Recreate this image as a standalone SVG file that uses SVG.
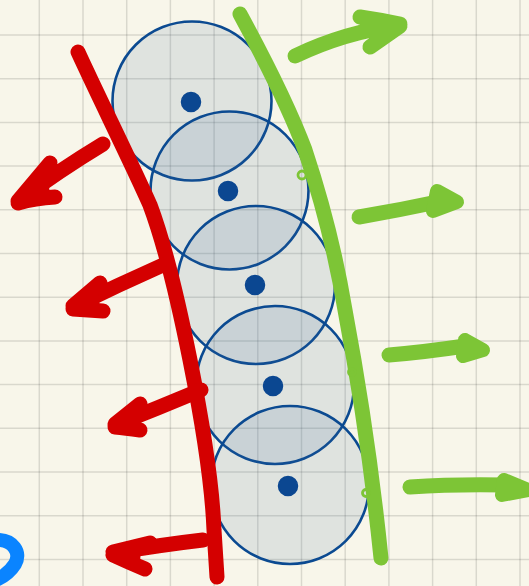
<svg xmlns="http://www.w3.org/2000/svg" width="529" height="586" viewBox="0 0 529 586">
<style>
.grid line{stroke:#000;stroke-opacity:0.12;stroke-width:1.5}
.cell circle.c{fill:#38669a;fill-opacity:0.13;stroke:#0b4a91;stroke-width:2.6}
.cell circle.d{fill:#0b4791;stroke:#0b4791;stroke-width:1.5}
.red{fill:none;stroke:#d40000;stroke-width:15;stroke-linecap:round;stroke-linejoin:round}
.rhead{fill:#d40000;stroke:#d40000;stroke-width:12;stroke-linejoin:round}
.green{fill:none;stroke:#7dc536;stroke-width:15;stroke-linecap:round;stroke-linejoin:round}
.ghead{fill:#7dc536;stroke:#7dc536;stroke-width:14;stroke-linejoin:round}
.loop{fill:none;stroke:#7dc536;stroke-width:2.8}
</style>
<rect width="529" height="586" fill="#f8f6ea"/>
<g class="grid">
<line x1="39.3" y1="0" x2="39.3" y2="586"/><line x1="83" y1="0" x2="83" y2="586"/><line x1="126.7" y1="0" x2="126.7" y2="586"/><line x1="170.4" y1="0" x2="170.4" y2="586"/><line x1="214.1" y1="0" x2="214.1" y2="586"/><line x1="257.8" y1="0" x2="257.8" y2="586"/><line x1="301.5" y1="0" x2="301.5" y2="586"/><line x1="345.2" y1="0" x2="345.2" y2="586"/><line x1="388.9" y1="0" x2="388.9" y2="586"/><line x1="432.6" y1="0" x2="432.6" y2="586"/><line x1="476.3" y1="0" x2="476.3" y2="586"/><line x1="520" y1="0" x2="520" y2="586"/>
<line x1="0" y1="35" x2="529" y2="35"/><line x1="0" y1="78.7" x2="529" y2="78.7"/><line x1="0" y1="122.4" x2="529" y2="122.4"/><line x1="0" y1="166.1" x2="529" y2="166.1"/><line x1="0" y1="209.8" x2="529" y2="209.8"/><line x1="0" y1="253.5" x2="529" y2="253.5"/><line x1="0" y1="297.2" x2="529" y2="297.2"/><line x1="0" y1="340.9" x2="529" y2="340.9"/><line x1="0" y1="384.6" x2="529" y2="384.6"/><line x1="0" y1="428.3" x2="529" y2="428.3"/><line x1="0" y1="472" x2="529" y2="472"/><line x1="0" y1="515.7" x2="529" y2="515.7"/><line x1="0" y1="559.4" x2="529" y2="559.4"/>
</g>
<g id="cell1" class="cell"><circle class="c" cx="192" cy="101" r="79.5"/><circle class="d" cx="191" cy="102" r="9.5"/></g>
<g id="cell2" class="cell"><circle class="c" cx="229.5" cy="190.5" r="79"/><circle class="d" cx="228" cy="191" r="9.5"/></g>
<g id="cell3" class="cell"><circle class="c" cx="256" cy="285" r="79"/><circle class="d" cx="255" cy="285" r="9.5"/></g>
<g id="cell4" class="cell"><circle class="c" cx="275" cy="385" r="79"/><circle class="d" cx="273" cy="386" r="9.5"/></g>
<g id="cell5" class="cell"><circle class="c" cx="290" cy="485" r="79"/><circle class="d" cx="288" cy="486" r="9.5"/></g>
<g id="connectors">
<path class="red" d="M78,52 C100,100 130,160 150,205 C165,245 178,300 190,360 C200,410 212,480 214,530 L217,577"/>
<path class="red" d="M103,144 Q60,170 18,201 M50,163 L18,201 M55,197 Q35,198 18,203"/>
<polygon class="rhead" points="19,200 42,178 44,196"/>
<path class="red" d="M163,265 Q118,285 73,307 M100,283 L73,306 M103,311 L73,309"/>
<polygon class="rhead" points="74,307 92,291 94,309"/>
<path class="red" d="M201,390 Q158,408 115,425 M140,404 L115,424 M140,430 Q125,428 115,427"/>
<polygon class="rhead" points="116,425 133,411 134,429"/>
<path class="red" d="M203,540 Q160,545 113,553 M150,543 L113,552 M145,569 Q128,562 113,555"/>
<polygon class="rhead" points="114,554 135,548 134,562"/>
<path class="green" d="M240,14 C265,60 290,110 305,150 C320,195 335,250 345,310 C360,390 372,470 381,558"/>
<circle class="loop" cx="302" cy="175" r="4"/>
<circle class="loop" cx="352" cy="372" r="3.5"/>
<circle class="loop" cx="366" cy="493" r="3.5"/>
<path class="green" d="M295,56 Q345,32 400,25 M360,17 Q380,20 400,24 M370,47 L400,26"/>
<path class="green" d="M359,217 Q400,210 442,201"/>
<polygon class="ghead" points="437,191 457,202 433,211"/>
<path class="green" d="M389,355 Q425,352 465,346"/>
<polygon class="ghead" points="465,340 483,350 463,356"/>
<path class="green" d="M410,487 Q455,484 505,485"/>
<polygon class="ghead" points="504,480 528,490 502,495"/>
<path d="M-2,540 C12,540 22,552 15,564 C10,572 4,576 -2,579" fill="none" stroke="#0a84ff" stroke-width="14" stroke-linecap="round"/>
</g>
</svg>
